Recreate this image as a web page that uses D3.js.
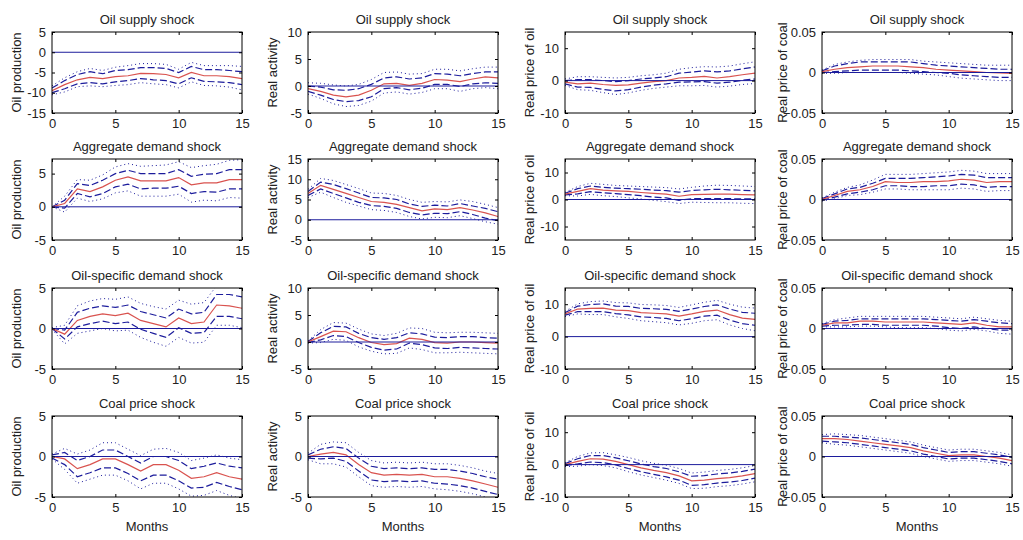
<!DOCTYPE html>
<html>
<head>
<meta charset="utf-8">
<script src="https://cdn.jsdelivr.net/npm/d3@7"></script>
<style>
body { margin: 0; background: #fff; }
svg { font-family: "Liberation Sans", Arial, sans-serif; }
</style>
</head>
<body>
<svg id="chart" width="1023" height="540"></svg>
<script>
const months = [0, 1, 2, 3, 4, 5, 6, 7, 8, 9, 10, 11, 12, 13, 14, 15];
const shocks = ["Oil supply shock", "Aggregate demand shock", "Oil-specific demand shock", "Coal price shock"];
const variables = ["Oil production", "Real activity", "Real price of oil", "Real price of coal"];

// each response: [median, upper 68%, lower 68%, upper 90%, lower 90%]
const supplyProd = [
    [-9.5, -8, -6.8, -6.2, -6.5, -6, -5.8, -5.2, -5.3, -5.5, -6.3, -5, -5.8, -5.8, -6, -6.5],
    [-8.8, -7, -5.5, -4.8, -5.3, -4.5, -4.3, -3.8, -3.8, -4, -5, -3.5, -4.3, -4.3, -4.5, -4.8],
    [-10, -9, -7.8, -7.5, -7.8, -7.3, -7, -6.5, -6.8, -7, -7.8, -6.3, -7.2, -7.3, -7.5, -8],
    [-8.3, -6.3, -4.8, -4, -4.5, -3.7, -3.3, -2.8, -2.8, -3, -4.2, -2.5, -3.3, -3.3, -3.3, -3.5],
    [-10.5, -9.8, -8.5, -8.3, -8.5, -8.2, -8, -7.5, -7.8, -8, -8.8, -7.3, -8.2, -8.3, -8.6, -9.3]
];
const supplyAct = [
    [-0.5, -1, -1.7, -2, -1.7, -0.8, 0.4, 0.5, 0.1, 0.5, 1.2, 1.1, 0.8, 1.3, 1.7, 1.5],
    [0, -0.2, -0.7, -0.8, -0.5, 0.3, 1.5, 1.7, 1.3, 1.5, 2.3, 2.2, 1.9, 2.3, 2.6, 2.6],
    [-1, -1.7, -2.5, -2.9, -2.7, -2, -0.5, -0.3, -0.7, -0.4, 0.3, 0.3, -0.1, 0.4, 0.6, 0.5],
    [0.6, 0.5, 0.2, 0, 0.3, 1.2, 2.5, 2.6, 2.2, 2.3, 3.1, 3.1, 2.8, 3.2, 3.5, 3.5],
    [-1.5, -2.3, -3.3, -3.8, -3.6, -2.8, -1.3, -1.1, -1.5, -1.2, -0.5, -0.5, -1, -0.5, -0.3, -0.5]
];
const supplyOil = [
    [-0.5, -1, -0.8, -1.2, -1.5, -1.3, -0.8, -0.3, 0, 0.8, 1, 1.3, 0.8, 1.2, 1.8, 2.3],
    [0, 0.3, 0.3, 0, -0.3, 0, 0.5, 0.8, 1.2, 2.3, 2.6, 3, 2.7, 3, 3.6, 4.2],
    [-1, -2, -2.1, -2.7, -3.2, -2.8, -2, -1.4, -1, -0.5, -0.4, -0.3, -0.8, -0.5, 0.1, 0.5],
    [0.5, 1.2, 1.2, 1, 0.8, 1, 1.5, 1.8, 2.3, 3.5, 4, 4.3, 4.2, 4.5, 5.2, 5.8],
    [-1.5, -2.8, -3, -3.7, -4.3, -3.8, -3, -2.4, -2, -1.6, -1.6, -1.5, -2, -1.7, -1.2, -0.9]
];
const supplyCoal = [
    [0.001, 0.004, 0.006, 0.007, 0.008, 0.008, 0.008, 0.007, 0.006, 0.004, 0.003, 0.002, 0.001, 0, -0.0005, -0.001],
    [0.002, 0.008, 0.011, 0.013, 0.013, 0.013, 0.013, 0.013, 0.011, 0.009, 0.008, 0.007, 0.006, 0.005, 0.004, 0.004],
    [0, 0.001, 0.002, 0.003, 0.003, 0.003, 0.003, 0.002, 0.001, 0, -0.001, -0.003, -0.004, -0.005, -0.006, -0.006],
    [0.003, 0.01, 0.013, 0.015, 0.016, 0.016, 0.016, 0.016, 0.014, 0.013, 0.012, 0.011, 0.01, 0.009, 0.009, 0.009],
    [-0.001, -0.001, 0, 0, 0, 0, 0, -0.001, -0.002, -0.003, -0.005, -0.007, -0.008, -0.009, -0.01, -0.01]
];
const aggProd = [
    [0, 0.5, 2.7, 2.3, 3, 4, 4.5, 3.9, 3.9, 3.9, 4.4, 3.3, 3.6, 3.6, 4.1, 4.1],
    [0, 1, 3.5, 3.2, 4, 5, 5.5, 5, 5, 5, 5.6, 4.6, 4.9, 5, 5.6, 5.6],
    [0, -0.2, 2, 1.5, 2, 3, 3.4, 2.7, 2.8, 2.8, 3.1, 2, 2.3, 2.2, 2.7, 2.7],
    [0, 1.6, 4.1, 4, 4.8, 6, 6.5, 6.1, 6.2, 6.3, 6.8, 5.9, 6.2, 6.4, 7, 7.1],
    [0, -0.8, 1.3, 0.8, 1.2, 2.1, 2.4, 1.6, 1.6, 1.6, 1.9, 0.7, 1, 0.9, 1.4, 1.3]
];
const aggAct = [
    [6.5, 8.5, 7.5, 6.5, 5.5, 4.5, 4.3, 3.8, 3, 2.2, 2.7, 2.5, 3, 2.4, 1.7, 0.8],
    [7, 9.3, 8.7, 7.7, 6.6, 5.5, 5.4, 5, 3.9, 3.3, 3.6, 3.4, 4, 3.4, 2.8, 2],
    [6, 7.6, 6.5, 5.4, 4.3, 3.5, 3.3, 2.8, 1.8, 1.2, 1.6, 1.5, 2, 1.3, 0.4, -0.2],
    [7.5, 10.2, 9.7, 8.7, 7.7, 6.6, 6.5, 6, 5, 4.3, 4.5, 4.4, 4.9, 4.5, 3.8, 3],
    [5.5, 6.8, 5.5, 4.3, 3.4, 2.5, 2.3, 1.8, 0.8, 0.2, 0.6, 0.5, 1, 0.3, -0.5, -1.1]
];
const aggOil = [
    [2, 3, 4, 3.5, 3.2, 3, 2.6, 2.3, 2, 1.2, 1.8, 1.9, 2, 2, 1.8, 1.7],
    [2.3, 4, 5, 4.5, 4.2, 4, 3.8, 3.5, 3.3, 2.7, 3.3, 3.6, 3.8, 3.6, 3.4, 3.2],
    [1.7, 2.1, 2.9, 2.5, 2.2, 1.8, 1.4, 0.9, 0.6, -0.3, 0.3, 0.3, 0.3, 0.3, 0.2, 0.2],
    [2.6, 4.8, 6, 5.6, 5.2, 5, 4.8, 4.6, 4.4, 3.9, 4.5, 5, 5.3, 5.2, 5, 4.8],
    [1.4, 1.3, 1.9, 1.4, 1.1, 0.6, 0.2, -0.3, -0.8, -1.5, -1, -1.1, -1.2, -1.2, -1.4, -1.5]
];
const aggCoal = [
    [0, 0.005, 0.01, 0.012, 0.016, 0.022, 0.021, 0.021, 0.022, 0.022, 0.023, 0.025, 0.024, 0.021, 0.022, 0.022],
    [0.001, 0.007, 0.013, 0.015, 0.02, 0.026, 0.026, 0.026, 0.027, 0.028, 0.029, 0.031, 0.03, 0.027, 0.027, 0.027],
    [-0.001, 0.003, 0.007, 0.009, 0.012, 0.017, 0.017, 0.016, 0.016, 0.017, 0.017, 0.019, 0.018, 0.015, 0.016, 0.016],
    [0.002, 0.009, 0.015, 0.018, 0.024, 0.031, 0.031, 0.031, 0.032, 0.033, 0.034, 0.036, 0.035, 0.032, 0.032, 0.032],
    [-0.002, 0.001, 0.005, 0.006, 0.009, 0.013, 0.013, 0.012, 0.012, 0.012, 0.012, 0.014, 0.013, 0.01, 0.011, 0.011]
];
const specProd = [
    [0, -0.7, 1, 1.5, 1.8, 1.6, 1.9, 1, 0.6, 0.2, 1.3, 0.6, 0.8, 2.9, 2.8, 2.5],
    [0, -0.2, 2, 2.5, 2.8, 2.6, 2.9, 2.1, 1.7, 1.3, 2.4, 1.8, 2, 4.2, 4.2, 3.9],
    [0, -1.3, 0.2, 0.6, 0.9, 0.6, 0.8, -0.1, -0.6, -1.1, 0.1, -0.6, -0.5, 1.5, 1.5, 1.2],
    [0.1, 0.4, 2.8, 3.4, 3.7, 3.6, 3.9, 3.1, 2.7, 2.4, 3.5, 3, 3.2, 5.3, 5.3, 5],
    [-0.1, -1.9, -0.6, -0.3, 0, -0.3, -0.2, -1.1, -1.7, -2.2, -1.1, -1.8, -1.7, 0.4, 0.4, 0.1]
];
const specAct = [
    [0, 1, 2, 1.9, 0.8, -0.1, -0.5, -0.3, 0.7, 0.5, -0.1, -0.2, 0, 0, -0.1, -0.2],
    [0.1, 1.7, 2.9, 2.8, 1.6, 0.8, 0.5, 0.8, 1.7, 1.5, 0.9, 0.8, 1, 1, 0.8, 0.7],
    [-0.1, 0.4, 1.2, 1, -0.1, -1, -1.5, -1.3, -0.2, -0.5, -1.1, -1.2, -1, -1.1, -1.2, -1.3],
    [0.2, 2.3, 3.6, 3.5, 2.4, 1.5, 1.2, 1.6, 2.6, 2.5, 1.8, 1.7, 1.8, 1.8, 1.7, 1.6],
    [-0.2, -0.1, 0.5, 0.3, -0.9, -1.7, -2.2, -2.1, -1.1, -1.4, -2, -2, -1.9, -2, -2.1, -2.2]
];
const specOil = [
    [7, 8.5, 8.7, 8.8, 8.2, 8, 7.4, 7.2, 7, 6.3, 7, 7.8, 8.2, 6.8, 5.7, 5.3],
    [7.4, 9.4, 9.9, 10.1, 9.4, 9.3, 8.7, 8.6, 8.4, 7.8, 8.5, 9.3, 9.8, 8.5, 7.5, 7.2],
    [6.6, 7.7, 7.7, 7.7, 7.1, 6.7, 6.1, 5.9, 5.6, 4.9, 5.5, 6.3, 6.6, 5.1, 4, 3.5],
    [7.8, 10.1, 10.8, 11, 10.5, 10.4, 9.9, 9.8, 9.6, 9, 9.8, 10.6, 11.2, 10, 9.1, 8.8],
    [6.2, 7, 6.8, 6.8, 6.1, 5.6, 4.9, 4.6, 4.3, 3.6, 4.1, 4.9, 5.2, 3.6, 2.5, 1.8]
];
const specCoal = [
    [0.004, 0.007, 0.007, 0.009, 0.009, 0.008, 0.008, 0.008, 0.008, 0.007, 0.006, 0.005, 0.007, 0.004, 0.002, 0.002],
    [0.005, 0.009, 0.01, 0.012, 0.012, 0.012, 0.012, 0.012, 0.012, 0.011, 0.01, 0.009, 0.011, 0.009, 0.007, 0.006],
    [0.003, 0.004, 0.004, 0.005, 0.005, 0.004, 0.004, 0.004, 0.004, 0.003, 0.001, 0, 0.002, 0, -0.002, -0.002],
    [0.006, 0.011, 0.013, 0.015, 0.015, 0.015, 0.015, 0.015, 0.015, 0.014, 0.013, 0.012, 0.014, 0.012, 0.01, 0.009],
    [0.002, 0.002, 0.002, 0.003, 0.003, 0.002, 0.001, 0.001, 0.001, 0, -0.002, -0.003, -0.001, -0.003, -0.006, -0.007]
];
const coalProd = [
    [0, -0.3, -1.5, -1, -0.3, -0.3, -1, -1.8, -1, -1, -1.7, -2.7, -2.5, -2, -2.5, -2.8],
    [0.2, 0.5, -0.5, 0, 0.8, 0.8, 0, -0.8, 0, 0, -0.5, -1.5, -1.2, -0.8, -1.2, -1.4],
    [-0.2, -1, -2.5, -2, -1.4, -1.4, -2.1, -3, -2.3, -2.3, -3, -3.9, -3.8, -3.2, -3.7, -4.1],
    [0.3, 1, 0.3, 0.8, 1.7, 1.7, 0.9, 0.1, 0.9, 1, 0.5, -0.5, -0.2, 0.2, -0.2, -0.4],
    [-0.3, -1.6, -3.3, -2.8, -2.3, -2.3, -3, -4, -3.3, -3.3, -4, -4.9, -4.8, -4.2, -4.8, -5.2]
];
const coalAct = [
    [0, 0.3, 0.5, 0.2, -1, -2, -2.3, -2.2, -2.3, -2.2, -2.5, -2.5, -2.7, -3, -3.4, -3.8],
    [0.2, 0.9, 1.2, 1, -0.2, -1.2, -1.5, -1.4, -1.5, -1.4, -1.6, -1.6, -1.8, -2.1, -2.5, -2.8],
    [-0.2, -0.3, -0.2, -0.6, -1.8, -2.9, -3.1, -3, -3.1, -3, -3.3, -3.4, -3.6, -3.9, -4.3, -4.7],
    [0.4, 1.5, 1.8, 1.7, 0.5, -0.5, -0.8, -0.7, -0.8, -0.7, -0.9, -0.9, -1.1, -1.4, -1.8, -2.1],
    [-0.4, -0.9, -0.9, -1.3, -2.5, -3.6, -3.8, -3.7, -3.8, -3.7, -4, -4.1, -4.3, -4.6, -5, -5.4]
];
const coalOil = [
    [0, 1, 1.8, 1.7, 1, 0, -1, -1.8, -2.5, -3.5, -5, -4.8, -4.3, -4, -3.5, -2.8],
    [0.3, 1.8, 2.8, 2.8, 2.1, 1.2, 0.2, -0.6, -1.2, -2.2, -3.6, -3.4, -2.9, -2.6, -2.1, -1.4],
    [-0.3, 0.2, 0.8, 0.6, -0.1, -1.2, -2.2, -3, -3.8, -4.8, -6.4, -6.2, -5.7, -5.4, -4.9, -4.2],
    [0.6, 2.5, 3.6, 3.7, 3, 2.2, 1.2, 0.4, -0.2, -1.2, -2.6, -2.3, -1.8, -1.5, -1, -0.3],
    [-0.6, -0.5, 0, -0.3, -1, -2.2, -3.2, -4, -4.8, -5.8, -7.4, -7.3, -6.8, -6.5, -6, -5.3]
];
const coalCoal = [
    [0.022, 0.022, 0.021, 0.019, 0.017, 0.015, 0.013, 0.011, 0.007, 0.004, 0.001, 0.002, 0.002, 0, -0.002, -0.005],
    [0.025, 0.025, 0.024, 0.023, 0.021, 0.019, 0.017, 0.015, 0.011, 0.008, 0.005, 0.006, 0.006, 0.004, 0.002, -0.001],
    [0.019, 0.018, 0.017, 0.015, 0.013, 0.011, 0.009, 0.007, 0.003, 0, -0.003, -0.002, -0.002, -0.004, -0.006, -0.009],
    [0.027, 0.028, 0.027, 0.026, 0.024, 0.022, 0.02, 0.018, 0.014, 0.011, 0.008, 0.009, 0.009, 0.007, 0.005, 0.002],
    [0.017, 0.015, 0.014, 0.012, 0.01, 0.008, 0.006, 0.004, 0, -0.003, -0.006, -0.005, -0.005, -0.007, -0.009, -0.012]
];

const responses = [
    [supplyProd, supplyAct, supplyOil, supplyCoal],
    [aggProd, aggAct, aggOil, aggCoal],
    [specProd, specAct, specOil, specCoal],
    [coalProd, coalAct, coalOil, coalCoal]
];

// y limits and ticks per panel
const yLimits = [
    [[-15, 5], [-5, 10], [-10, 15], [-0.05, 0.05]],
    [[-5, 7.2], [-5, 15], [-15, 15], [-0.05, 0.05]],
    [[-5, 5], [-5, 10], [-10, 15], [-0.05, 0.05]],
    [[-5, 5], [-5, 5], [-10, 15], [-0.05, 0.05]]
];
const yTickValues = [
    [[-15, -10, -5, 0, 5], [-5, 0, 5, 10], [-10, 0, 10], [-0.05, 0, 0.05]],
    [[-5, 0, 5], [-5, 0, 5, 10, 15], [-10, 0, 10], [-0.05, 0, 0.05]],
    [[-5, 0, 5], [-5, 0, 5, 10], [-10, 0, 10], [-0.05, 0, 0.05]],
    [[-5, 0, 5], [-5, 0, 5], [-10, 0, 10], [-0.05, 0, 0.05]]
];
const xTickValues = [0, 5, 10, 15];

const colLeft = [52, 308, 565, 822];
const rowTop = [32, 159, 288, 416];
const plotW = 190, plotH = 81;

const blue = "#1c1c9c";
const red = "#d9534f";
const ink = "#222";

const svg = d3.select("#chart");
svg.append("rect").attr("width", 1023).attr("height", 540).attr("fill", "#fff");

const fmt = v => v === 0 ? "0" : (Math.abs(v) < 1 ? d3.format(".2f")(v) : String(v));

shocks.forEach((shock, r) => {
    variables.forEach((variable, c) => {
        const id = `clip-${r}-${c}`;
        const g = svg.append("g").attr("transform", `translate(${colLeft[c]},${rowTop[r]})`);
        const x = d3.scaleLinear().domain([0, 15]).range([0, plotW]);
        const y = d3.scaleLinear().domain(yLimits[r][c]).range([plotH, 0]);

        g.append("clipPath").attr("id", id)
            .append("rect").attr("width", plotW).attr("height", plotH);

        const plot = g.append("g").attr("clip-path", `url(#${id})`);
        const line = d3.line().x((d, i) => x(months[i])).y(d => y(d));
        const [med, hi68, lo68, hi90, lo90] = responses[r][c];

        [hi90, lo90].forEach(s => plot.append("path").attr("d", line(s))
            .attr("fill", "none").attr("stroke", blue).attr("stroke-width", 1)
            .attr("stroke-dasharray", "1,3"));
        [hi68, lo68].forEach(s => plot.append("path").attr("d", line(s))
            .attr("fill", "none").attr("stroke", blue).attr("stroke-width", 1.2)
            .attr("stroke-dasharray", "7,3"));
        plot.append("path").attr("d", line(med))
            .attr("fill", "none").attr("stroke", red).attr("stroke-width", 1.2);
        plot.append("line")
            .attr("x1", 0).attr("x2", plotW).attr("y1", y(0)).attr("y2", y(0))
            .attr("stroke", blue).attr("stroke-width", 1);

        // axes with inward ticks on all sides
        const yt = yTickValues[r][c];
        g.append("g").call(d3.axisLeft(y).tickValues(yt).tickSize(-3).tickFormat(fmt).tickPadding(6))
            .call(a => a.select(".domain").remove())
            .call(a => a.selectAll("text").attr("font-size", 13).attr("fill", ink));
        g.append("g").attr("transform", `translate(${plotW},0)`)
            .call(d3.axisRight(y).tickValues(yt).tickSize(-3).tickFormat(""))
            .call(a => a.select(".domain").remove());
        g.append("g").attr("transform", `translate(0,${plotH})`)
            .call(d3.axisBottom(x).tickValues(xTickValues).tickSize(-3).tickPadding(6))
            .call(a => a.select(".domain").remove())
            .call(a => a.selectAll("text").attr("font-size", 13).attr("fill", ink));
        g.append("g")
            .call(d3.axisTop(x).tickValues(xTickValues).tickSize(-3).tickFormat(""))
            .call(a => a.select(".domain").remove());
        g.selectAll(".tick line").attr("stroke", "#000");

        g.append("rect").attr("width", plotW).attr("height", plotH)
            .attr("fill", "none").attr("stroke", "#000").attr("stroke-width", 1);

        g.append("text")
            .attr("x", plotW / 2).attr("y", -8)
            .attr("text-anchor", "middle").attr("font-size", 13).attr("fill", ink)
            .text(shock);

        g.append("text")
            .attr("transform", `translate(${c === 3 ? -35 : -31},${plotH / 2}) rotate(-90)`)
            .attr("text-anchor", "middle").attr("font-size", 13).attr("fill", ink)
            .text(variable);

        if (r === 3) {
            g.append("text")
                .attr("x", plotW / 2).attr("y", plotH + 34)
                .attr("text-anchor", "middle").attr("font-size", 13).attr("fill", ink)
                .text("Months");
        }
    });
});
</script>
</body>
</html>
